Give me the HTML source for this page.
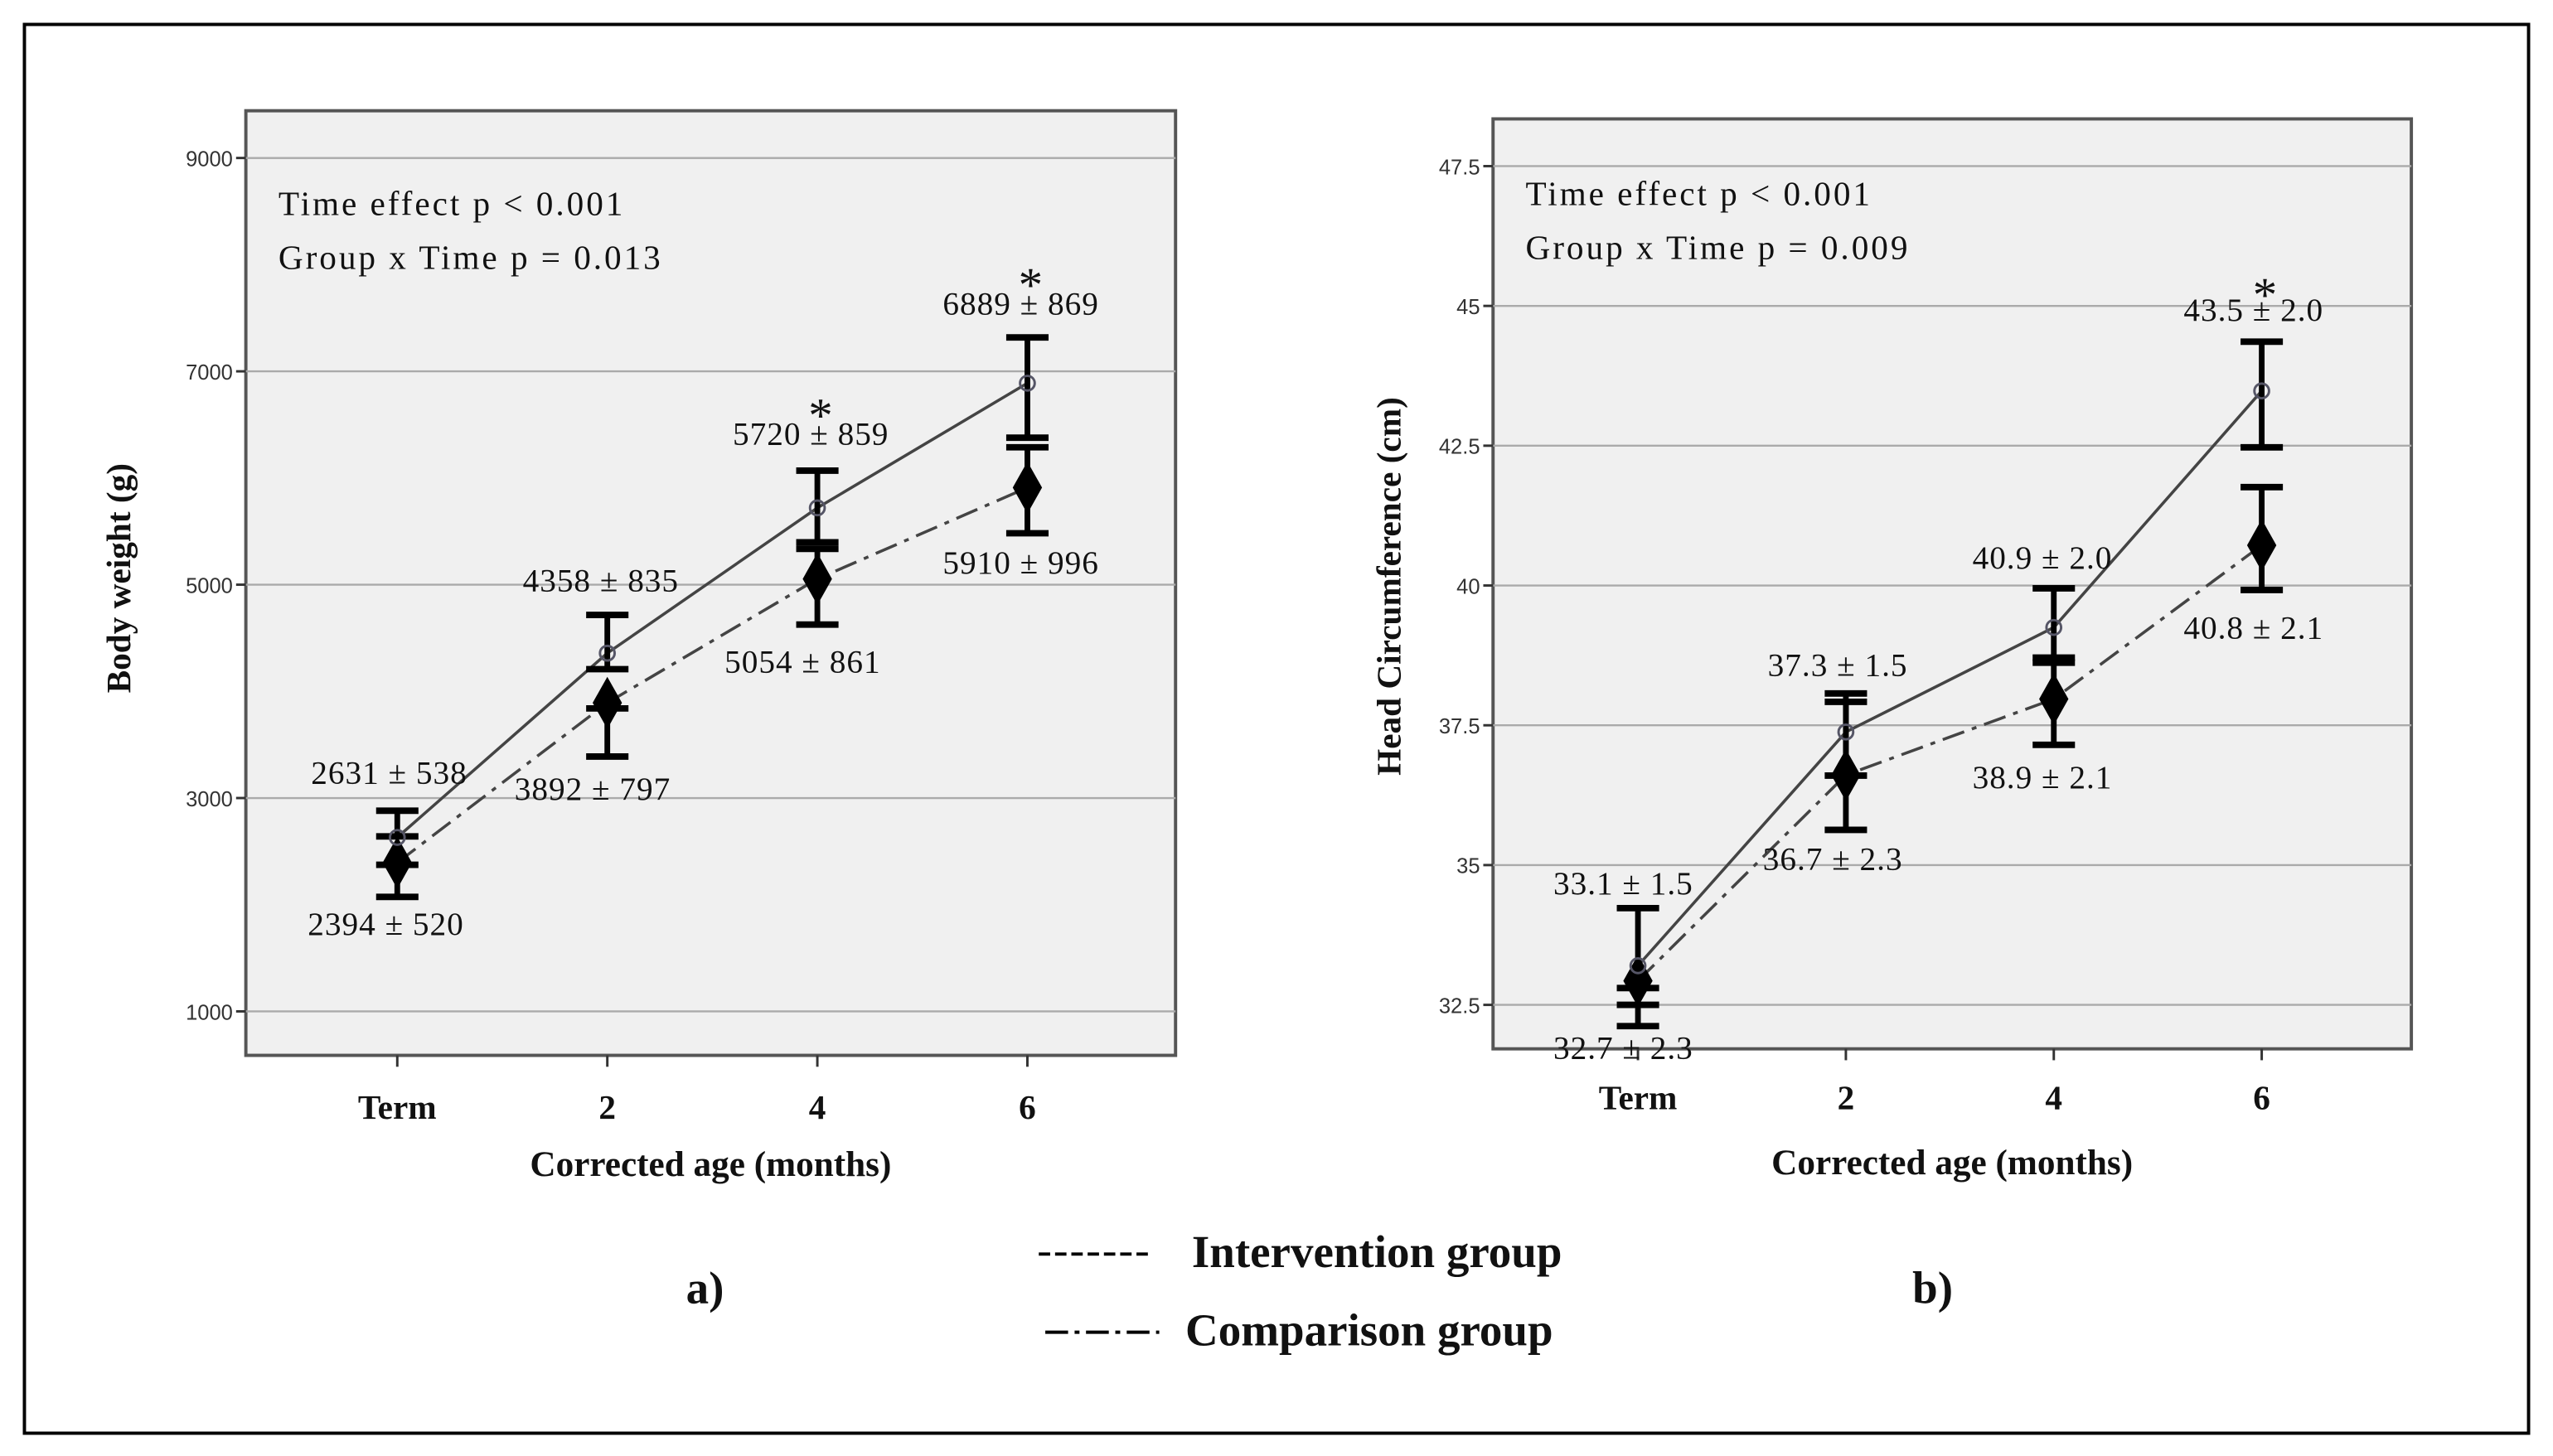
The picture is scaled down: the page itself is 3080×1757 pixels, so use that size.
<!DOCTYPE html>
<html><head><meta charset="utf-8"><style>
html,body{margin:0;padding:0;background:#fff;}
svg{display:block;}
text{font-family:"Liberation Serif",serif;fill:#111;}
</style></head><body>
<svg id="fig" width="3080" height="1757" viewBox="0 0 1568 894" preserveAspectRatio="none" xmlns="http://www.w3.org/2000/svg">
<rect x="15" y="15" width="1538" height="865" fill="#fff" stroke="#000" stroke-width="2"/>
<g id="chartA"></g>
<g id="chartB"></g>
<text x="433" y="800" font-size="28" font-weight="bold" text-anchor="middle">a)</text>
<text x="1187" y="800" font-size="28" font-weight="bold" text-anchor="middle">b)</text>
<g>
<line x1="638" y1="770" x2="707" y2="770" stroke="#000" stroke-width="2" stroke-dasharray="7,3"/>
<text x="732" y="778" font-size="28" font-weight="bold">Intervention group</text>
<line x1="642" y1="818" x2="712" y2="818" stroke="#000" stroke-width="2" stroke-dasharray="14,4,3,4"/>
<text x="728" y="826" font-size="28" font-weight="bold">Comparison group</text>
</g>
</svg>
<script>
const categories = ["Term","2","4","6"];
// Panel a: body weight
const bwTicks = [1000,3000,5000,7000,9000];
const bwIntMean = [2631,4358,5720,6889];
const bwIntLow = [2640,4208,5397,6378];
const bwIntHigh = [2881,4716,6069,7318];
const bwCmpMean = [2394,3892,5054,5910];
const bwCmpLow = [2073,3389,4626,5482];
const bwCmpHigh = [2374,3840,5336,6288];
const bwIntLabels = ["2631 ± 538","4358 ± 835","5720 ± 859","6889 ± 869"];
const bwCmpLabels = ["2394 ± 520","3892 ± 797","5054 ± 861","5910 ± 996"];
const bwStar = [false,false,true,true];
// Panel b: head circumference
const hcTicks = [32.5,35,37.5,40,42.5,45,47.5];
const hcTickLabels = ["32.5","35","37.5","40","42.5","45","47.5"];
const hcIntMean = [33.2,37.38,39.25,43.48];
const hcIntLow = [32.5,36.6,38.71,42.47];
const hcIntHigh = [34.23,38.07,39.95,44.36];
const hcCmpMean = [32.93,36.61,37.97,40.72];
const hcCmpLow = [32.12,35.63,37.15,39.92];
const hcCmpHigh = [32.8,37.92,38.62,41.76];
const hcIntLabels = ["33.1 ± 1.5","37.3 ± 1.5","40.9 ± 2.0","43.5 ± 2.0"];
const hcCmpLabels = ["32.7 ± 2.3","36.7 ± 2.3","38.9 ± 2.1","40.8 ± 2.1"];
const hcStar = [false,false,false,true];

const NS="http://www.w3.org/2000/svg";
function mk(parent,tag,attrs,txt){const e=document.createElementNS(NS,tag);for(const k in attrs)e.setAttribute(k,attrs[k]);if(txt!==undefined)e.textContent=txt;parent.appendChild(e);return e;}

function draw(cfg){
  const g=document.getElementById(cfg.id);
  const y=v=>cfg.y0+(v-cfg.v0)*(cfg.y1-cfg.y0)/(cfg.v1-cfg.v0);
  const x=i=>cfg.xs[0]+i*(cfg.xs[1]-cfg.xs[0]);
  let e=mk(g,'rect',{x:cfg.L,y:cfg.T,width:cfg.R-cfg.L,height:cfg.B-cfg.T,fill:'#f0f0f0',stroke:'#555','stroke-width':2});
  
  
  cfg.ticks.forEach((t,i)=>{
    e=mk(g,'line',{x1:cfg.L,x2:cfg.R,y1:y(t),y2:y(t),stroke:'#aaa','stroke-width':1.2});
    
    
    mk(g,'line',{x1:cfg.L-6,x2:cfg.L,y1:y(t),y2:y(t),stroke:'#333','stroke-width':1.5});
    e=mk(g,'text',{x:cfg.L-8,y:y(t)+5,'font-size':13,'text-anchor':'end',style:'font-family:"Liberation Sans",sans-serif;fill:#333'},cfg.tickLabels[i]);
    
    
  });
  categories.forEach((c,i)=>{
    mk(g,'line',{x1:x(i),x2:x(i),y1:cfg.B,y2:cfg.B+7,stroke:'#333','stroke-width':1.5});
    e=mk(g,'text',{x:x(i),y:cfg.xlabY,'font-size':21,'font-weight':'bold','text-anchor':'middle'},c);
    
    
  });
  e=mk(g,'text',{x:(cfg.L+cfg.R)/2,y:cfg.xtitleY,'font-size':22,'font-weight':'bold','text-anchor':'middle'},'Corrected age (months)');
  
  
  e=mk(g,'text',{x:0,y:0,'font-size':21,'font-weight':'bold','text-anchor':'middle',transform:`translate(${cfg.ytX},${cfg.ytY}) rotate(-90)`},cfg.ytitle);
  
  
  e=mk(g,'text',{x:cfg.L+20,y:cfg.T+cfg.stat1,'font-size':21,'letter-spacing':'1.5'},'Time effect p < 0.001');
  
  
  e=mk(g,'text',{x:cfg.L+20,y:cfg.T+cfg.stat1+33,'font-size':21,'letter-spacing':'1.5'},cfg.stat2);
  
  
  e=mk(g,'polyline',{points:cfg.im.map((v,i)=>x(i)+','+y(v)).join(' '),fill:'none',stroke:'#444','stroke-width':1.8});
  
  
  e=mk(g,'polyline',{points:cfg.cm.map((v,i)=>x(i)+','+y(v)).join(' '),fill:'none',stroke:'#444','stroke-width':1.8,'stroke-dasharray':'14,5,3,5'});
  
  
  const bar=(i,lo,hi,name)=>{
    const b=mk(g,'g',{});
    
    
    mk(b,'line',{x1:x(i),x2:x(i),y1:y(lo),y2:y(hi),stroke:'#000','stroke-width':3.5});
    mk(b,'line',{x1:x(i)-13,x2:x(i)+13,y1:y(lo),y2:y(lo),stroke:'#000','stroke-width':4});
    mk(b,'line',{x1:x(i)-13,x2:x(i)+13,y1:y(hi),y2:y(hi),stroke:'#000','stroke-width':4});
  };
  categories.forEach((c,i)=>{
    bar(i,cfg.cl[i],cfg.ch[i],'comparison-error-bar');
    bar(i,cfg.il[i],cfg.ih[i],'intervention-error-bar');
    const px=x(i),py=y(cfg.cm[i]);
    e=mk(g,'polygon',{points:`${px},${py-16} ${px+9},${py} ${px},${py+16} ${px-9},${py}`,fill:'#000'});
    
    
    e=mk(g,'circle',{cx:px,cy:y(cfg.im[i]),r:4.5,fill:'none',stroke:'#556','stroke-width':1.5});
    
    
    e=mk(g,'text',{x:px+cfg.ilo[i][0],y:cfg.ilo[i][1],'font-size':20,'text-anchor':'middle','letter-spacing':'0.5'},cfg.ilab[i]);
    
    
    e=mk(g,'text',{x:px+cfg.clo[i][0],y:cfg.clo[i][1],'font-size':20,'text-anchor':'middle','letter-spacing':'0.5'},cfg.clab[i]);
    
    
    if(cfg.star[i]){
      e=mk(g,'text',{x:px+2,y:cfg.starY[i],'font-size':30,'text-anchor':'middle'},'*');
      
      
    }
  });
}
draw({id:'chartA',L:151,R:722,T:68,B:648,y0:621,y1:97,v0:1000,v1:9000,xs:[244,373],
  ticks:bwTicks,tickLabels:bwTicks.map(String),xlabY:687,xtitleY:722,ytitle:'Body weight (g)',ytX:80,ytY:355,
  stat1:64,stat2:'Group x Time p = 0.013',im:bwIntMean,il:bwIntLow,ih:bwIntHigh,cm:bwCmpMean,cl:bwCmpLow,ch:bwCmpHigh,
  ilab:bwIntLabels,clab:bwCmpLabels,ilo:[[-5,481],[-4,363],[-4,273],[-4,193]],clo:[[-7,574],[-9,491],[-9,413],[-4,352]],
  star:bwStar,starY:[0,0,265,185]});
draw({id:'chartB',L:917,R:1481,T:73,B:644,y0:617,y1:102,v0:32.5,v1:47.5,xs:[1006,1133.7],
  ticks:hcTicks,tickLabels:hcTickLabels,xlabY:681,xtitleY:721,ytitle:'Head Circumference (cm)',ytX:860,ytY:360,
  stat1:53,stat2:'Group x Time p = 0.009',im:hcIntMean,il:hcIntLow,ih:hcIntHigh,cm:hcCmpMean,cl:hcCmpLow,ch:hcCmpHigh,
  ilab:hcIntLabels,clab:hcCmpLabels,ilo:[[-9,549],[-5,415],[-7,349],[-5,197]],clo:[[-9,650],[-8,534],[-7,484],[-5,392]],
  star:hcStar,starY:[0,0,0,191]});
</script>
</body></html>
